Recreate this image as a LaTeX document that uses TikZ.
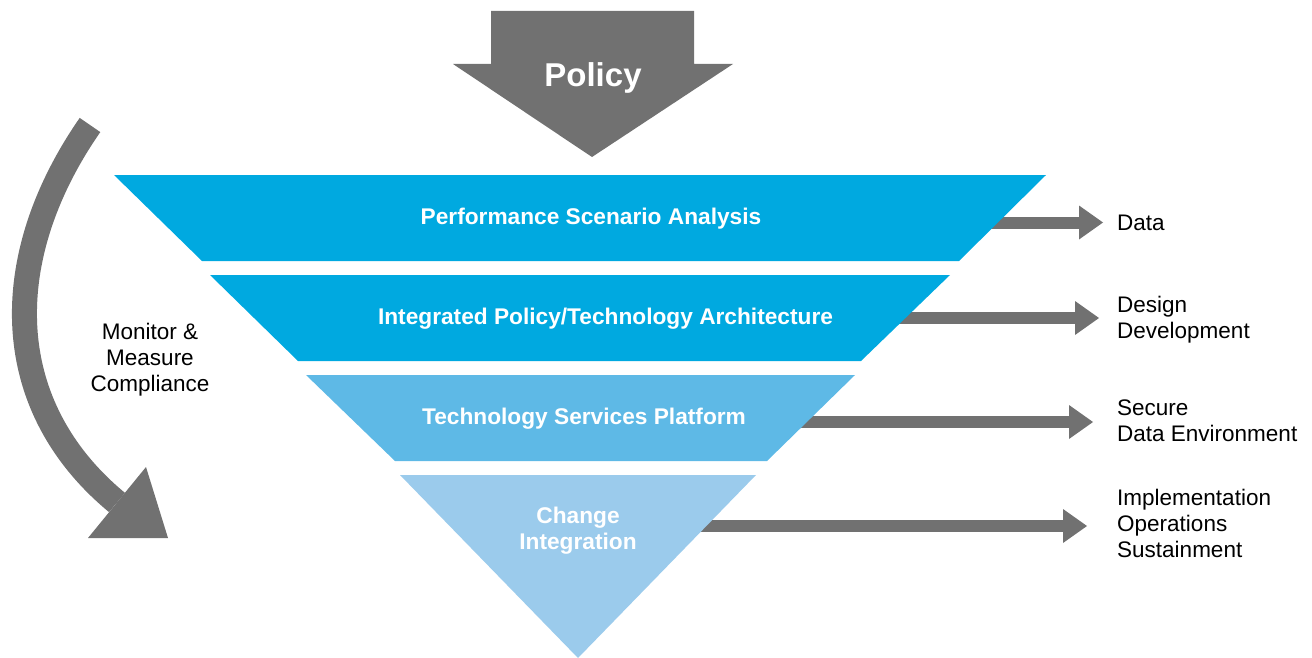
\documentclass[tikz,border=0pt]{standalone}
\usepackage{fontspec}
\setmainfont{Liberation Sans}
\definecolor{bluedark}{HTML}{00A9E0}
\definecolor{bluemid}{HTML}{5EB9E6}
\definecolor{bluelight}{HTML}{9BCBEC}
\definecolor{arrowgray}{HTML}{717171}
\begin{document}
\begin{tikzpicture}[x=1pt,y=-1pt,
  layertext/.style={text=white,font=\bfseries\fontsize{22.7}{26}\selectfont,align=center,anchor=base,inner sep=0pt},
  sidetext/.style={text=black,font=\fontsize{22.5}{25.8}\selectfont,align=left,anchor=base west,inner sep=0pt},
  shaft/.style={draw=arrowgray,line width=12pt,shorten >=20pt},
  headfill/.style={fill=arrowgray}]
\useasboundingbox (0,0) rectangle (1312,658);

% Policy arrow
\fill[arrowgray] (491,11) -- (694,11) -- (694,64) -- (733,64) -- (592,157) -- (453,64) -- (491,64) -- cycle;
\node[text=white,font=\bfseries\fontsize{33}{36}\selectfont,anchor=base,inner sep=0pt] (policy) at (593,87) {Policy};

% coordinates for horizontal connectors
\coordinate (s1) at (950,222.5);
\coordinate (t1) at (1103,222.5);
\coordinate (s2) at (860,318);
\coordinate (t2) at (1099,318);
\coordinate (s3) at (760,422);
\coordinate (t3) at (1093,422);
\coordinate (s4) at (660,526);
\coordinate (t4) at (1087,526);

\foreach \i in {1,2,3,4} {
  \draw[shaft] (s\i) -- (t\i);
  \fill[headfill] (t\i) -- ++(-24,-17) -- ++(0,34) -- cycle;
}

% funnel layers
\fill[bluedark] (114,175) -- (1046,175) -- (959,261) -- (202,261) -- cycle;
\fill[bluedark] (210,275) -- (950,275) -- (861,361) -- (298,361) -- cycle;
\fill[bluemid] (306,375) -- (855,375) -- (767,461) -- (395,461) -- cycle;
\fill[bluelight] (400,475) -- (756,475) -- (578,658) -- cycle;

\node[layertext] (l1) at (591,224) {Performance Scenario Analysis};
\node[layertext] (l2) at (605.5,324) {Integrated Policy/Technology Architecture};
\node[layertext] (l3) at (584,424) {Technology Services Platform};
\node[layertext] (l4) at (578,549) {Change\\Integration};

% right labels
\node[sidetext] (d1) at (1117,230) {Data};
\node[sidetext] (d2) at (1117,338) {Design\\Development};
\node[sidetext] (d3) at (1117,441) {Secure\\Data Environment};
\node[sidetext] (d4) at (1117,557) {Implementation\\Operations\\Sustainment};

% monitor arrow
\coordinate (mstart) at (90,125);
\coordinate (mend) at (117,502.5);
\draw[arrowgray,line width=25pt] (mstart) .. controls (-1,256) and (-2,404) .. (mend);
\fill[arrowgray] (146,467) -- (168,538) -- (88,538) -- cycle;
\node[text=black,font=\fontsize{22.5}{26}\selectfont,align=center,anchor=base,inner sep=0pt] (mon) at (150,391) {Monitor \&\\Measure\\Compliance};
\end{tikzpicture}
\end{document}
